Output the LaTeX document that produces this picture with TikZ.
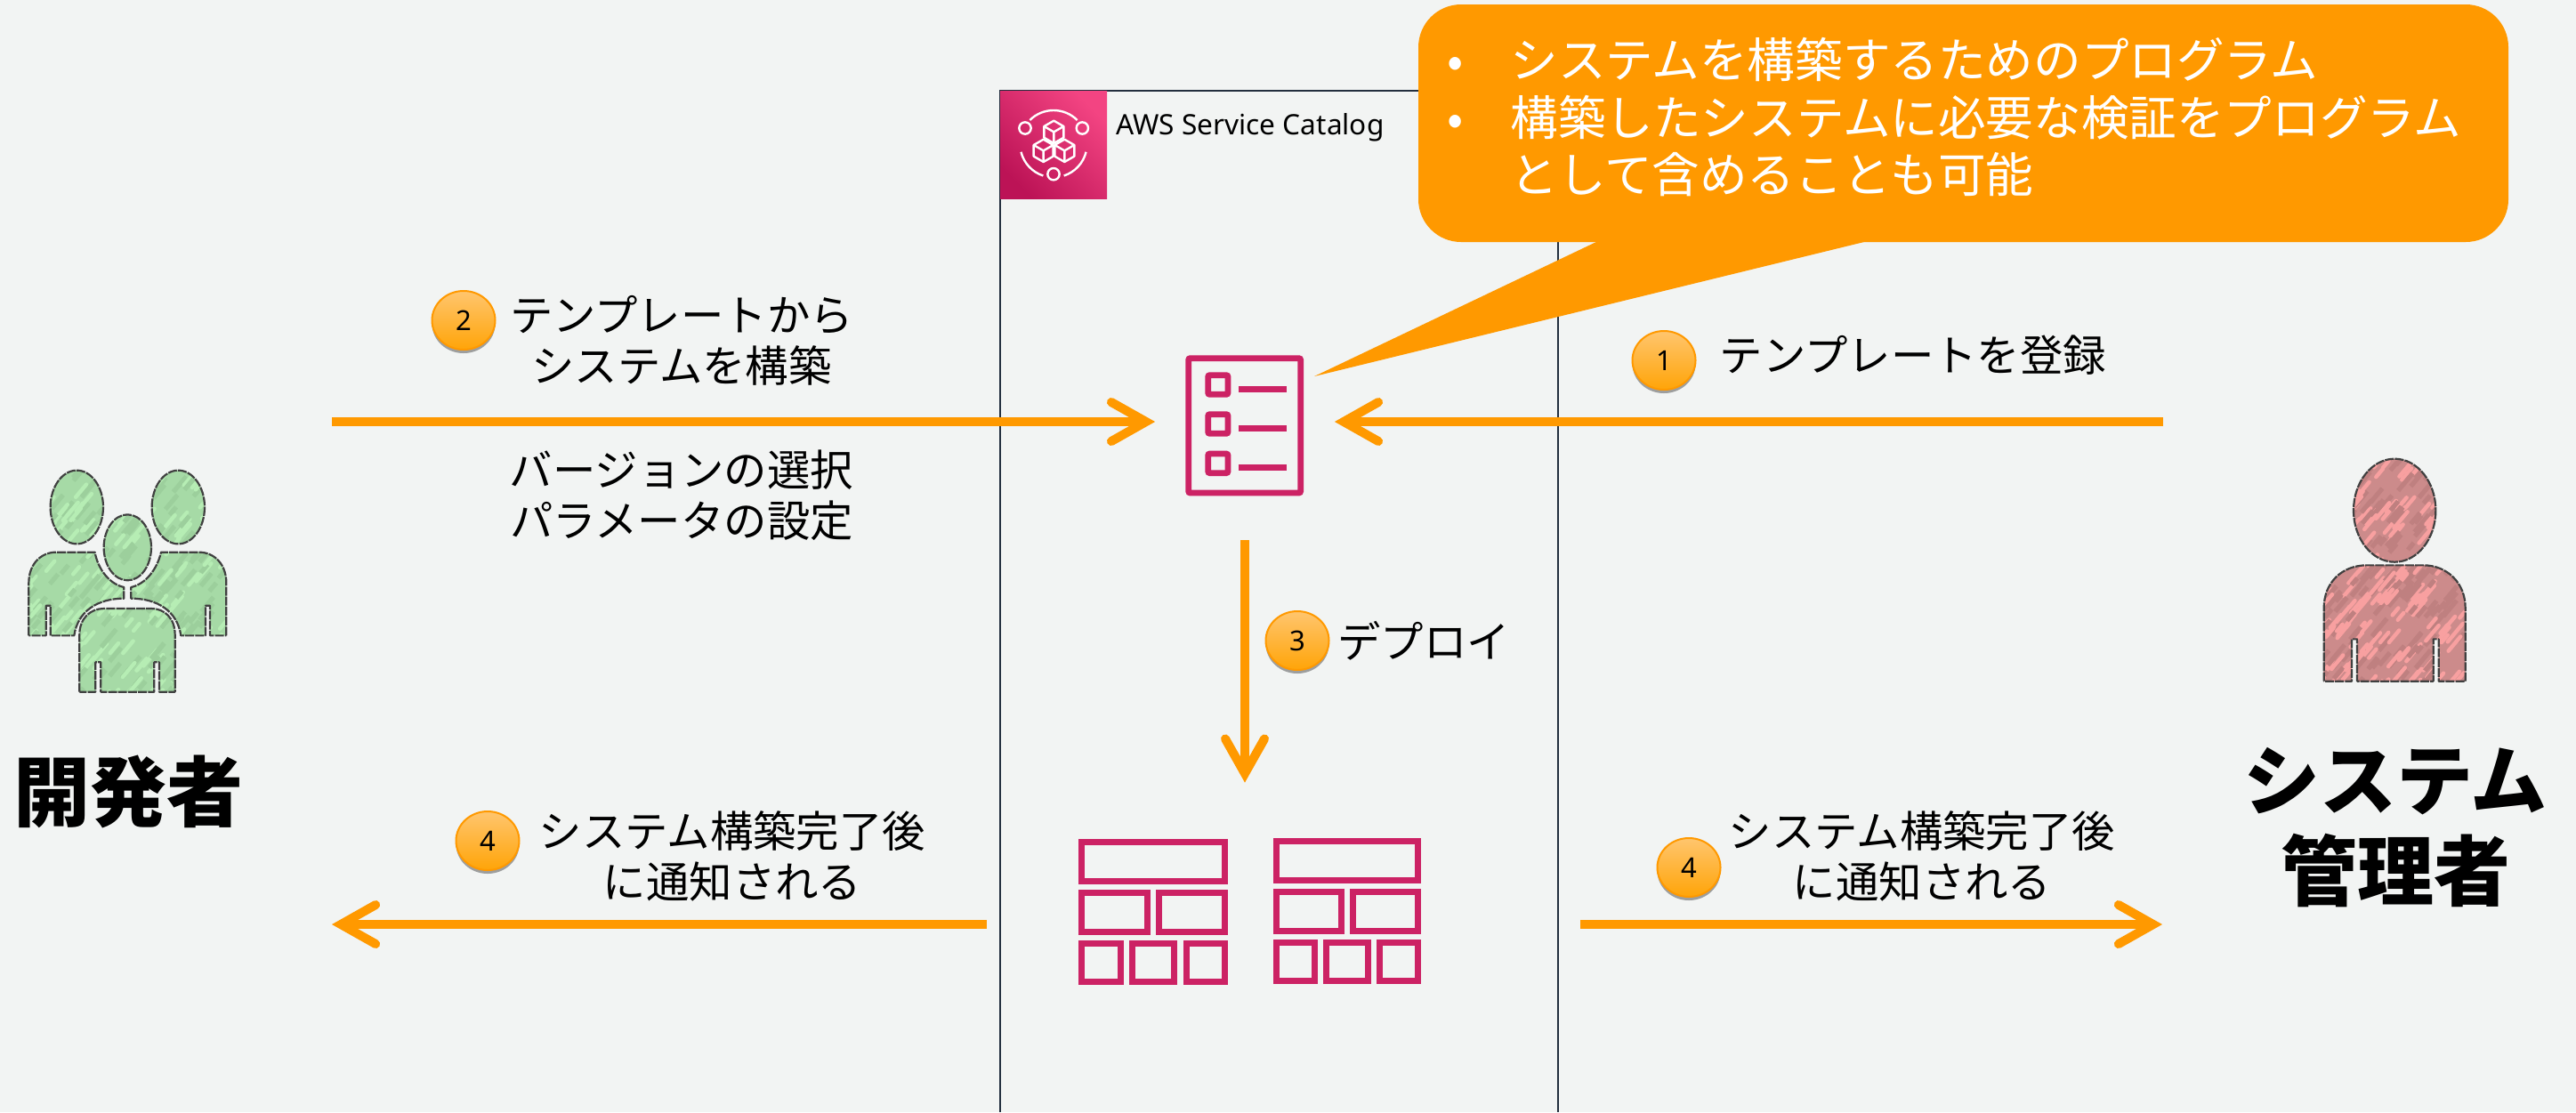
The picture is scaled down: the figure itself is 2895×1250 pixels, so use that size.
\documentclass[tikz,border=0pt]{standalone}
\usepackage{fontspec}
\setmainfont{Noto Sans}
\newfontfamily\jpfont{Noto Sans CJK JP}
\usetikzlibrary{arrows.meta,shapes.geometric,shadows}

\definecolor{pagebg}{HTML}{F2F4F3}
\definecolor{awsorange}{HTML}{FF9900}
\definecolor{awspink}{HTML}{CC2264}
\definecolor{framedark}{HTML}{232F3E}
\definecolor{logodark}{HTML}{BC1356}
\definecolor{logobright}{HTML}{F34482}
\definecolor{badgetop}{HTML}{FFC56E}
\definecolor{badgelow}{HTML}{FFA408}
\definecolor{devbase}{HTML}{A6DAA6}
\definecolor{devlight}{HTML}{B6EDB4}
\definecolor{devdark}{HTML}{9CCF9C}
\definecolor{adminbase}{HTML}{CC8B8B}
\definecolor{adminlight}{HTML}{F8A0A0}
\definecolor{admindark}{HTML}{BF8080}

\tikzset{
  flow/.style={draw=awsorange, line width=5pt, -{Straight Barb[length=19.5pt,width=22pt,line cap=round,line join=miter]}},
  iconline/.style={draw=awspink, line width=3.4pt},
  logoline/.style={draw=white, line width=1.2pt},
  jptext/.style={align=center, inner sep=0pt, font=\jpfont\fontsize{24.2}{28.5}\selectfont},
  notetext/.style={anchor=base west, inner sep=0pt, text=white, font=\jpfont\fontsize{26.8}{30}\selectfont},
  role/.style={align=center, inner sep=0pt, font=\jpfont\bfseries\fontsize{43}{51}\selectfont},
  badge/.style={ellipse, minimum width=35.5pt, minimum height=33pt, inner sep=0pt,
    top color=badgetop, bottom color=badgelow, draw=awsorange, line width=1pt,
    drop shadow={shadow xshift=0pt, shadow yshift=-2pt, opacity=.35, fill=black},
    font=\fontsize{15.5}{18}\selectfont},
}

% path, base, light, dark, then the box that the strokes fall in
\newcommand{\sketchfig}[8]{%
  \begin{scope}
    \clip #1;
    \fill[#2] (#5,#6) rectangle ++(#7,#8);
    \pgfmathsetseed{11}
    \foreach \k in {1,...,170} {
      \pgfmathsetmacro{\sx}{#5+rnd*#7}
      \pgfmathsetmacro{\sy}{#6+rnd*#8}
      \pgfmathsetmacro{\sl}{30+rnd*50}
      \draw[#3, line width=2.2pt, line cap=round] (\sx,\sy) -- ++(-50:-\sl);
      \pgfmathsetmacro{\tx}{#5+rnd*#7}
      \pgfmathsetmacro{\ty}{#6+rnd*#8}
      \draw[#4, line width=2.6pt] (\tx,\ty) -- ++(-50:-\sl);
    }
  \end{scope}
  \draw[black!75, line width=1.1pt, line join=round, dash pattern=on 5pt off 0.6pt] #1;
}

\begin{document}
\begin{tikzpicture}[x=0.5pt,y=-0.5pt]
  \useasboundingbox (0,0) rectangle (2895,1250);
  \fill[pagebg] (0,0) rectangle (2895,1250);

  \draw[framedark, line width=1.1pt] (1124,1250) -- (1124,102) -- (1751,102) -- (1751,1250);

  % logo
  \fill[left color=logodark, right color=logobright, shading angle=135] (1124,102) rectangle (1244,223);
  \begin{scope}[shift={(1100,80)},scale=1/3]
    \draw[logoline] (252,245) ++(225:113) arc[start angle=225,end angle=315,radius=113];
    \draw[logoline] (252,245) ++(166:113) arc[start angle=166,end angle=108,radius=113];
    \draw[logoline] (252,245) ++(14:113) arc[start angle=14,end angle=72,radius=113];
    \foreach \cx/\cy in {156/192, 349/192, 252/347}
      \draw[logoline] (\cx,\cy) circle (20);
    \foreach \cx/\cy in {253/205, 218/268, 289/268} {
      \draw[logoline, line join=round] (\cx,{\cy-38}) -- ({\cx+33},{\cy-19}) -- ({\cx+33},{\cy+19}) -- (\cx,{\cy+38}) -- ({\cx-33},{\cy+19}) -- ({\cx-33},{\cy-19}) -- cycle;
      \draw[logoline] ({\cx-33},{\cy-19}) -- (\cx,\cy) -- ({\cx+33},{\cy-19}) (\cx,\cy) -- (\cx,{\cy+38});
    }
  \end{scope}
  \node[anchor=base west, inner sep=0pt, font=\fontsize{15.8}{18}\selectfont] (catalog) at (1254,151) {AWS Service Catalog};

  % developers
  \begin{scope}[shift={(0,480)},scale=1/3]
    \sketchfig{(259,270) ellipse [x radius=89, y radius=124]
      (601,270) ellipse [x radius=89, y radius=124]
      (430,406) ellipse [x radius=80, y radius=111]
      (97,703) -- (97,525) .. controls (97,465) and (135,422) .. (190,422) -- (320,422) .. controls (330,480) and (370,530) .. (418,540) -- (418,578) .. controls (330,578) and (262,620) .. (250,703) -- (170,703) -- (170,602) -- (155,602) -- (155,703) -- cycle
      (763,703) -- (763,525) .. controls (763,465) and (725,422) .. (670,422) -- (543,422) .. controls (530,480) and (490,530) .. (442,540) -- (442,578) .. controls (530,578) and (598,620) .. (610,703) -- (693,703) -- (693,602) -- (708,602) -- (708,703) -- cycle
      (268,893) -- (268,700) .. controls (268,645) and (305,612) .. (350,612) -- (510,612) .. controls (555,612) and (590,645) .. (590,700) -- (590,893) -- (537,893) -- (537,793) -- (520,793) -- (520,893) -- (340,893) -- (340,793) -- (322,793) -- (322,893) -- cycle}
      {devbase}{devlight}{devdark}{90}{140}{680}{760}
  \end{scope}

  % admin
  \begin{scope}[shift={(2500,480)},scale=1/3]
    \sketchfig{(573.5,281) ellipse [x radius=138.5, y radius=174]
      (335,857) -- (335,610) .. controls (335,525) and (395,466) .. (480,466) -- (670,466) .. controls (750,466) and (812,525) .. (812,610) -- (812,857) -- (722,857) -- (722,715) -- (704,715) -- (704,857) -- (447,857) -- (447,715) -- (429,715) -- (429,857) -- cycle}
      {adminbase}{adminlight}{admindark}{330}{100}{490}{765}
  \end{scope}

  \node[role] (devlabel) at (144,890) {開発者};
  \node[role] (adminlabel) at (2692,930) {システム\\管理者};

  % template
  \node[minimum width=100.5pt, minimum height=133pt, inner sep=0pt] (tmpl) at (1399,474) {};
  \begin{scope}[shift={(1100,80)},scale=1/3]
    \draw[iconline, rounded corners=1pt] (707,968) rectangle (1085,1422);
    \foreach \by in {1025, 1157, 1290} {
      \draw[iconline, rounded corners=1pt] (773,\by) rectangle (840,{\by+65});
      \draw[iconline] (877,{\by+47}) -- (1038,{\by+47});
    }
  \end{scope}

  % stacks
  \node[minimum width=290pt, minimum height=159pt, inner sep=0pt] (stacks) at (1399,1039) {};
  \begin{scope}[shift={(1180,900)},scale=1/3]
    \foreach \xa/\xb/\ya/\yb in {97/601/130/282, 97/340/300/452, 358/601/300/452, 97/249/470/622, 268/430/470/622, 449/601/470/622,
        752/1252/127/279, 752/993/297/449, 1012/1252/297/449, 752/903/467/619, 922/1083/467/619, 1102/1252/467/619}
      \draw[iconline] ({\xa+10.5},{\ya+10.5}) rectangle ({\xb-10.5},{\yb-10.5});
  \end{scope}

  \coordinate (devout) at (373,474);
  \coordinate (devin) at (373,1039);
  \coordinate (adminout) at (2431,474);
  \coordinate (adminin) at (2430,1039);
  \coordinate (stackright) at (1776,1039);

  \draw[flow] (devout) -- (tmpl);
  \draw[flow] (adminout) -- (tmpl);
  \draw[flow] (tmpl) -- (stacks);
  \draw[flow] (stacks) -- (devin);
  \draw[flow] (stackright) -- (adminin);

  % note
  \node[fill=awsorange, rounded corners=24pt, minimum width=612.5pt, minimum height=133.5pt, inner sep=0pt] (note) at (2206.5,138.5) {};
  \coordinate (notetip) at (1477,423);
  \fill[awsorange] (1798,270) -- (notetip) -- (2103,270) -- cycle;

  \node[notetext] (bullet1) at (1626,87) {•};
  \node[notetext] (bullet2) at (1626,152) {•};
  \node[notetext] (note1) at (1697,87) {システムを構築するためのプログラム};
  \node[notetext] (note2) at (1697,152) {構築したシステムに必要な検証をプログラム};
  \node[notetext] (note3) at (1697,216) {として含めることも可能};

  \node[badge] (b1) at (1870,405) {1};
  \node[badge] (b2) at (521,360) {2};
  \node[badge] (b3) at (1458,720) {3};
  \node[badge] (b4a) at (548,945) {4};
  \node[badge] (b4b) at (1898,975) {4};

  \node[jptext] (t2) at (766,383) {テンプレートから\\システムを構築};
  \node[jptext] (t2b) at (766,557) {バージョンの選択\\パラメータの設定};
  \node[jptext] (t1) at (2150,399) {テンプレートを登録};
  \node[jptext] (t3) at (1600,720) {デプロイ};
  \node[jptext] (t4a) at (823,962) {システム構築完了後\\に通知される};
  \node[jptext] (t4b) at (2160,962) {システム構築完了後\\に通知される};
\end{tikzpicture}
\end{document}
